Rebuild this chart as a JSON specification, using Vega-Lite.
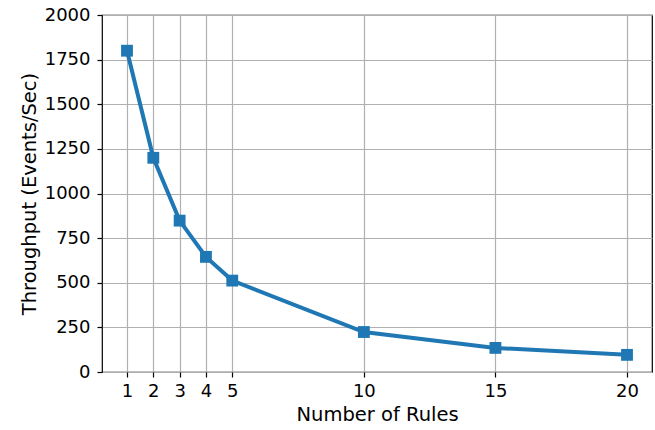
{
  "$schema": "https://vega.github.io/schema/vega-lite/v6.json",
  "autosize": "none",
  "width": 550,
  "height": 357,
  "padding": {"left": 102, "top": 15, "right": 3, "bottom": 58},
  "background": "white",
  "config": {
    "font": "DejaVu Sans",
    "view": {"stroke": "black", "strokeWidth": 1.2},
    "axis": {
      "labelFont": "DejaVu Sans",
      "titleFont": "DejaVu Sans",
      "labelFontSize": 18,
      "titleFontSize": 19.5,
      "titleFontWeight": "normal",
      "labelColor": "black",
      "titleColor": "black",
      "tickColor": "black",
      "tickSize": 5,
      "tickWidth": 1.2,
      "domain": false,
      "gridColor": "#b0b0b0",
      "gridWidth": 1.2,
      "gridOpacity": 1
    }
  },
  "data": {
    "values": [
      {"rules": 1, "throughput": 1800},
      {"rules": 2, "throughput": 1200},
      {"rules": 3, "throughput": 848},
      {"rules": 4, "throughput": 645},
      {"rules": 5, "throughput": 512},
      {"rules": 10, "throughput": 224},
      {"rules": 15, "throughput": 135},
      {"rules": 20, "throughput": 96}
    ]
  },
  "encoding": {
    "x": {
      "field": "rules",
      "type": "quantitative",
      "scale": {"domain": [0.05, 20.95], "nice": false, "zero": false},
      "axis": {"values": [1, 2, 3, 4, 5, 10, 15, 20], "title": "Number of Rules", "labelPadding": 5, "titlePadding": 5}
    },
    "y": {
      "field": "throughput",
      "type": "quantitative",
      "scale": {"domain": [0, 2000], "nice": false},
      "axis": {"values": [0, 250, 500, 750, 1000, 1250, 1500, 1750, 2000], "format": "d", "title": "Throughput (Events/Sec)", "labelPadding": 7, "titlePadding": 5}
    }
  },
  "layer": [
    {"mark": {"type": "line", "color": "#1f77b4", "strokeWidth": 4}},
    {"mark": {"type": "point", "shape": "square", "filled": true, "color": "#1f77b4", "size": 140, "opacity": 1}}
  ]
}
